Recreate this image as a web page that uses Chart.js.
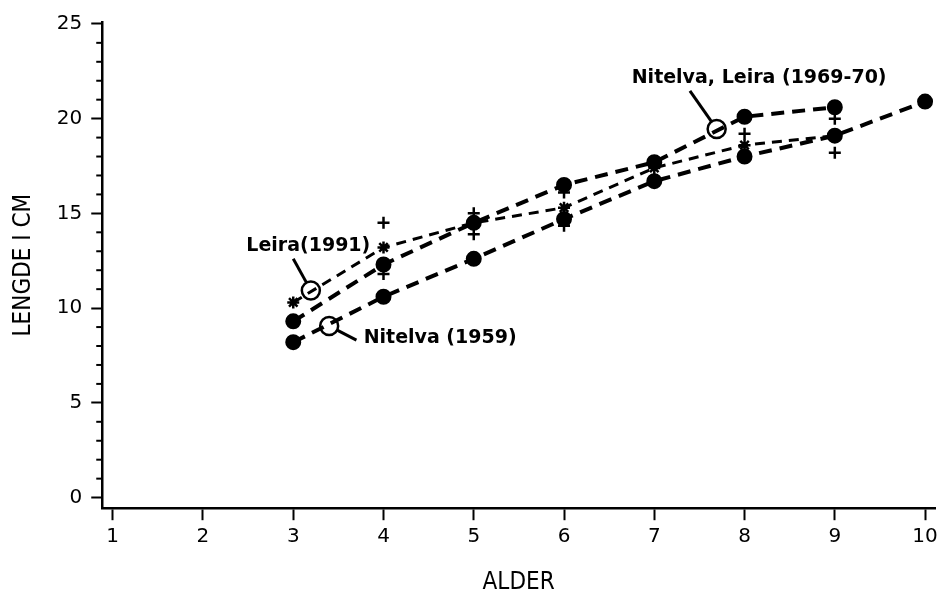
<!DOCTYPE html>
<html>
<head>
<meta charset="utf-8">
<script src="https://cdn.jsdelivr.net/npm/chart.js@4.4.1/dist/chart.umd.min.js"></script>
<style>
  html, body { margin: 0; padding: 0; background: #fff; }
  #wrap { width: 951px; height: 599px; position: relative; }
</style>
</head>
<body>
<div id="wrap"><canvas id="chart"></canvas></div>
<script>
// Lengde (cm) per alder, lest av figuren
const alder1959 = [3, 4, 5, 6, 7, 8, 9, 10];
const lengde1959 = [8.2, 10.6, 12.6, 14.7, 16.7, 18.0, 19.1, 20.9];

const alder1969 = [3, 4, 5, 6, 7, 8, 9];
const lengde1969 = [9.3, 12.3, 14.5, 16.5, 17.7, 20.1, 20.6];

const alder1991 = [3, 4, 5, 6, 7, 8, 9];
const lengde1991 = [10.3, 13.2, 14.5, 15.3, 17.4, 18.6, 19.1];

// enkeltverdier merket med +
const plussAlder = [4, 4, 5, 5, 6, 6, 8, 9, 9];
const plussLengde = [14.5, 11.8, 15.0, 13.9, 16.1, 14.35, 19.2, 20.0, 18.2];

const xTittel = 'ALDER';
const yTittel = 'LENGDE I CM';

// Merknader: tekst, leder-strek og ring (i dataenheter)
const merknader = [
    { tekst: 'Leira(1991)', tx: 2.48, ty: 13.3, lx: 3.0, ly: 12.6, cx: 3.195, cy: 10.93 },
    { tekst: 'Nitelva (1959)', tx: 3.78, ty: 8.4, lx: 3.70, ly: 8.31, cx: 3.398, cy: 9.06 },
    { tekst: 'Nitelva, Leira (1969-70)', tx: 6.75, ty: 22.13, lx: 7.395, ly: 21.47, cx: 7.691, cy: 19.45 }
];

const toPoints = (xs, ys) => xs.map((x, i) => ({ x: x, y: ys[i] }));

const tittelFont = "'Liberation Sans Narrow', 'DejaVu Sans Condensed', sans-serif";
const tallFont = "'DejaVu Sans', sans-serif";

// Små delstreker på y-aksen + ringer og tekster
const merkePlugin = {
    id: 'merker',
    afterDraw(chart) {
        const ctx = chart.ctx;
        const xs = chart.scales.x;
        const ys = chart.scales.y;
        const left = chart.chartArea.left;

        ctx.save();
        ctx.strokeStyle = '#000';
        ctx.lineWidth = 2;
        for (let v = 1; v < 25; v++) {
            if (v % 5 === 0) continue;
            const py = ys.getPixelForValue(v);
            ctx.beginPath();
            ctx.moveTo(left - 6, py);
            ctx.lineTo(left, py);
            ctx.stroke();
        }

        const r = 9;
        merknader.forEach(m => {
            const cx = xs.getPixelForValue(m.cx);
            const cy = ys.getPixelForValue(m.cy);
            const lx = xs.getPixelForValue(m.lx);
            const ly = ys.getPixelForValue(m.ly);

            ctx.lineWidth = 2.5;
            ctx.beginPath();
            ctx.arc(cx, cy, r, 0, Math.PI * 2);
            ctx.stroke();

            const dx = lx - cx, dy = ly - cy;
            const d = Math.sqrt(dx * dx + dy * dy);
            ctx.lineWidth = 3;
            ctx.beginPath();
            ctx.moveTo(cx + dx / d * r, cy + dy / d * r);
            ctx.lineTo(lx, ly);
            ctx.stroke();

            ctx.fillStyle = '#000';
            ctx.font = "bold 19px 'DejaVu Sans', sans-serif";
            ctx.textAlign = 'left';
            ctx.textBaseline = 'middle';
            ctx.fillText(m.tekst, xs.getPixelForValue(m.tx), ys.getPixelForValue(m.ty));
        });
        ctx.restore();
    }
};

const linjeStil = {
    showLine: true,
    borderColor: '#000',
    backgroundColor: '#000',
    pointBorderColor: '#000',
    pointBackgroundColor: '#000',
    tension: 0,
    fill: false
};

new Chart(document.getElementById('chart'), {
    type: 'scatter',
    data: {
        datasets: [
            Object.assign({}, linjeStil, {
                label: 'Nitelva (1959)',
                data: toPoints(alder1959, lengde1959),
                borderWidth: 4,
                borderDash: [13, 8],
                pointStyle: 'circle',
                pointRadius: 6
            }),
            Object.assign({}, linjeStil, {
                label: 'Nitelva, Leira (1969-70)',
                data: toPoints(alder1969, lengde1969),
                borderWidth: 4,
                borderDash: [13, 8],
                pointStyle: 'circle',
                pointRadius: 6
            }),
            Object.assign({}, linjeStil, {
                label: 'Leira (1991)',
                data: toPoints(alder1991, lengde1991),
                borderWidth: 3,
                borderDash: [10, 7],
                pointStyle: 'star',
                pointRadius: 6,
                pointBorderWidth: 2.5
            }),
            {
                label: '+',
                data: toPoints(plussAlder, plussLengde),
                showLine: false,
                pointStyle: 'cross',
                pointRadius: 6,
                pointBorderWidth: 2.5,
                pointBorderColor: '#000'
            }
        ]
    },
    options: {
        responsive: true,
        maintainAspectRatio: false,
        animation: false,
        layout: { padding: { left: 0, top: 22, right: 16, bottom: 0 } },
        plugins: {
            legend: { display: false },
            tooltip: { enabled: false }
        },
        scales: {
            x: {
                type: 'linear',
                min: 0.884,
                max: 10.11,
                border: { color: '#000', width: 2.5 },
                grid: { drawOnChartArea: false, tickLength: 12, tickColor: '#000', tickWidth: 2 },
                ticks: {
                    stepSize: 1,
                    includeBounds: false,
                    color: '#000',
                    padding: 5,
                    font: { family: tallFont, size: 20 }
                },
                title: {
                    display: true,
                    text: xTittel,
                    color: '#000',
                    font: { family: tittelFont, size: 24 },
                    padding: { top: 14, bottom: 2 }
                }
            },
            y: {
                type: 'linear',
                min: -0.56,
                max: 25.1,
                border: { color: '#000', width: 2.5 },
                grid: { drawOnChartArea: false, tickLength: 11, tickColor: '#000', tickWidth: 2 },
                ticks: {
                    stepSize: 5,
                    includeBounds: false,
                    color: '#000',
                    padding: 9,
                    font: { family: tallFont, size: 20 }
                },
                title: {
                    display: true,
                    text: yTittel,
                    color: '#000',
                    font: { family: tittelFont, size: 24 },
                    padding: { top: 9, bottom: 10 }
                }
            }
        }
    },
    plugins: [merkePlugin]
});
</script>
</body>
</html>
